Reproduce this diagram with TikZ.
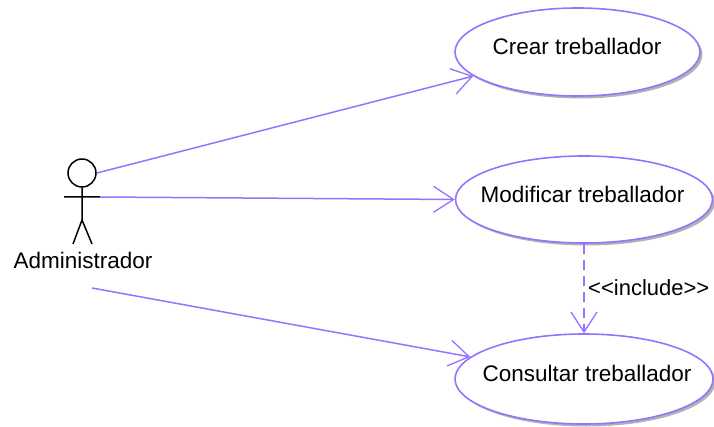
\documentclass[tikz,border=0pt]{standalone}
\usepackage{fontspec}
\setmainfont{Liberation Sans}
\usetikzlibrary{arrows.meta,shadows,shapes.geometric}
\definecolor{umlv}{RGB}{150,115,255}
\tikzset{
 usecase/.style={ellipse,draw=umlv,line width=1.6pt,fill=white,inner sep=0pt,text=black,
   drop shadow={shadow xshift=2.5pt,shadow yshift=-2.5pt,fill=black,opacity=.3}},
 assoc/.style={draw=umlv,line width=1.5pt,-{Straight Barb[length=20pt,width=26pt,line width=1.3pt]}},
 incl/.style={assoc,dash pattern=on 10pt off 6pt},
 stick/.style={draw=black,line width=1.5pt},
 lbl/.style={inner sep=0pt,text=black,font=\fontsize{22.5}{25}\selectfont}
}
\begin{document}
\begin{tikzpicture}[x=1pt,y=-1pt]
\useasboundingbox (0,0) rectangle (714,427);
\node[usecase,minimum width=245pt,minimum height=88pt] (e1) at (577.5,52) {};
\node[usecase,minimum width=257pt,minimum height=87pt] (e2) at (584,199.5) {};
\node[usecase,minimum width=258pt,minimum height=90pt] (e3) at (584,379) {};
\node[lbl] (t1) at (577,46) {Crear treballador};
\node[lbl] (t2) at (582.5,194) {Modificar treballador};
\node[lbl] (t3) at (587,373) {Consultar treballador};
\node[stick,circle,minimum size=28pt,inner sep=0pt] (head) at (82,173) {};
\coordinate (armL) at (64,197);
\coordinate (armR) at (100,197);
\coordinate (neck) at (82,197);
\coordinate (hip) at (82,220);
\coordinate (footL) at (73,244);
\coordinate (footR) at (92,244);
\draw[stick] (head) -- (neck) -- (hip) (armL) -- (armR) (footL) -- (hip) -- (footR);
\node[lbl] (actor) at (83,260) {Administrador};
\coordinate (a1) at (97,173);
\coordinate (a3) at (92,288);
\draw[assoc] (a1) -- (e1.193);
\draw[assoc] (armR) -- (e2.west);
\draw[assoc] (a3) -- (e3.169.6);
\draw[incl] (e2.south) -- (e3.north);
\node[lbl,anchor=west,font=\fontsize{22}{25}\selectfont] (inc) at (588,288) {{<}{<}include{>}{>}};
\end{tikzpicture}
\end{document}
